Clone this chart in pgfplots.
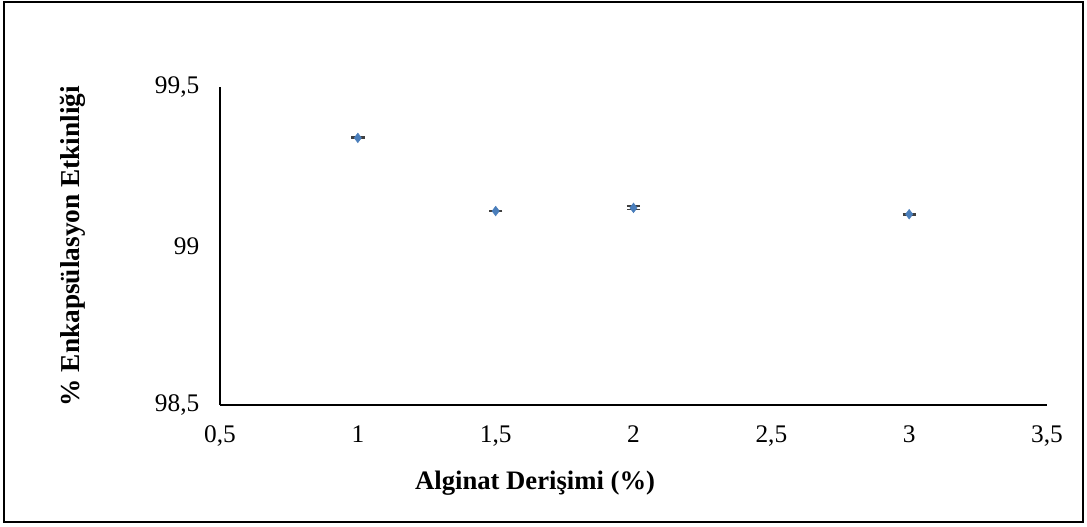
\documentclass[border=0pt]{standalone}
\usepackage{pgfplots}
\pgfplotsset{compat=1.18}
\usepackage{fontspec}
\setmainfont{Liberation Serif}
\definecolor{mblue}{HTML}{4A7EBB}
\definecolor{egray}{HTML}{404040}
\begin{document}
\begin{tikzpicture}[x=1pt,y=1pt]
\begin{axis}[
  at={(0,0)}, anchor=origin,
  scale only axis, width=620.25pt, height=238.5pt,
  xmin=0.5, xmax=3.5, ymin=98.5, ymax=99.5,
  axis x line*=bottom, axis y line*=left,
  axis line style={black, line width=1pt, -},
  xtick={0.5,1,1.5,2,2.5,3,3.5},
  ytick={98.5,99,99.5},
  major tick length=0pt,
  /pgf/number format/assume math mode=true,
  /pgf/number format/use comma,
  xticklabel style={font=\fontsize{19}{22}\selectfont, yshift=-12pt},
  yticklabel style={font=\fontsize{19}{22}\selectfont, xshift=-12pt},
  yticklabel={\pgfmathprintnumber[fixed,precision=1]{\tick}},
  xlabel={\textbf{Alginat Derişimi (\%)}},
  ylabel={\textbf{\% Enkapsülasyon Etkinliği}},
  xlabel style={font=\fontsize{20}{23}\selectfont, at={(rel axis cs:0.381,0)}, anchor=center, yshift=-58.5pt},
  ylabel style={font=\fontsize{20.5}{23}\selectfont, at={(rel axis cs:0,0.5)}, anchor=center, yshift=110pt},
  clip=false,
]
\addplot[only marks, mark=diamond*, mark size=3.6pt, mark options={fill=mblue, draw=mblue},
  error bars/.cd, y dir=both, y explicit,
  error bar style={egray, line width=1.1pt},
  error mark options={rotate=90, mark size=5pt, line width=1.2pt, egray}]
  coordinates {
  (1,99.34) +- (0,0.002)
  (1.5,99.11) +- (0,0.002)
  (2,99.12) +- (0,0.005)
  (3,99.10) +- (0,0.002)
  };
\end{axis}
\draw[line width=1.1pt] (-162,-87.75) rectangle (647.25,302.25);
\useasboundingbox (-165,-90.75) rectangle (650.25,303.75);
\end{tikzpicture}
\end{document}
